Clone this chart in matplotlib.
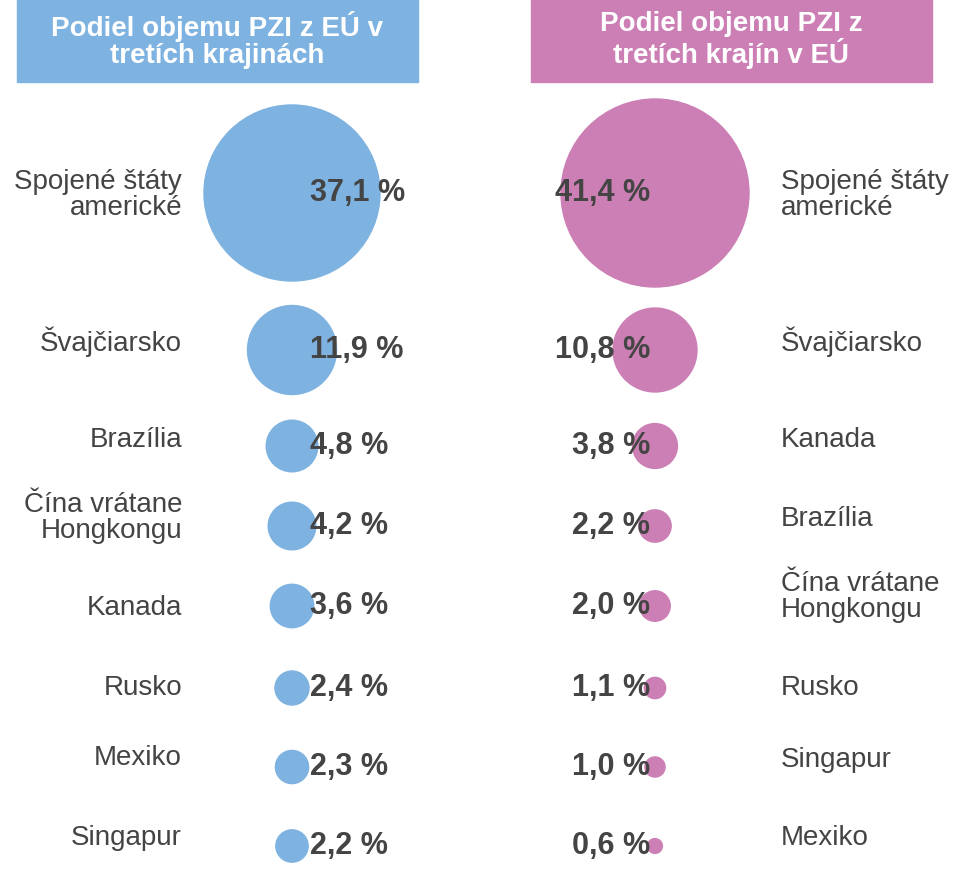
import matplotlib.pyplot as plt
from matplotlib.patches import Circle, Rectangle

# data
left_labels = ["Spojené štáty\namerické", "Švajčiarsko", "Brazília", "Čína vrátane\nHongkongu",
               "Kanada", "Rusko", "Mexiko", "Singapur"]
left_values = [37.1, 11.9, 4.8, 4.2, 3.6, 2.4, 2.3, 2.2]
right_labels = ["Spojené štáty\namerické", "Švajčiarsko", "Kanada", "Brazília",
                "Čína vrátane\nHongkongu", "Rusko", "Singapur", "Mexiko"]
right_values = [41.4, 10.8, 3.8, 2.2, 2.0, 1.1, 1.0, 0.6]
titles = ["Podiel objemu PZI z EÚ v\ntretích krajinách", "Podiel objemu PZI z\ntretích krajín v EÚ"]

row_y = [193, 350, 446, 526, 606, 688, 767, 846]
left_label_y = [195, 342, 440, 518, 608, 688, 758, 838]
right_label_y = [195, 342, 440, 519, 597, 688, 760, 838]
blue, pink, dark = "#7eb2e0", "#cc7fb5", "#444444"
fam = ["Liberation Sans", "DejaVu Sans"]

def radius(v):
    return 94 * (v / 41.4) ** 0.6

fig = plt.figure(figsize=(9.72, 8.71), dpi=100)
ax = fig.add_axes([0, 0, 1, 1])
ax.set_xlim(0, 972)
ax.set_ylim(871, 0)
ax.set_aspect("equal")
ax.axis("off")

for x0, c, t in [(17, blue, titles[0]), (531, pink, titles[1])]:
    ax.add_patch(Rectangle((x0, 0), 401, 82, color=c))
    ax.text(x0 + 200, 40, t, ha="center", va="center", color="white", fontsize=20,
            fontweight="bold", family=fam, linespacing=1.05)

for i in range(8):
    ax.add_patch(Circle((292, row_y[i]), radius(left_values[i]), color=blue, zorder=1))
    ax.text(310, row_y[i], f"{left_values[i]:.1f} %".replace(".", ","), ha="left", va="center",
            fontsize=22, fontweight="bold", color=dark, family=fam, zorder=2)
    ax.text(182, left_label_y[i], left_labels[i], ha="right", va="center", fontsize=20,
            color=dark, family=fam, linespacing=1.0)

    ax.add_patch(Circle((655, row_y[i]), radius(right_values[i]), color=pink, zorder=1))
    ax.text(650, row_y[i], f"{right_values[i]:.1f} %".replace(".", ","), ha="right", va="center",
            fontsize=22, fontweight="bold", color=dark, family=fam, zorder=2)
    ax.text(781, right_label_y[i], right_labels[i], ha="left", va="center", fontsize=20,
            color=dark, family=fam, linespacing=1.0)

fig.savefig("out.png", dpi=100)
